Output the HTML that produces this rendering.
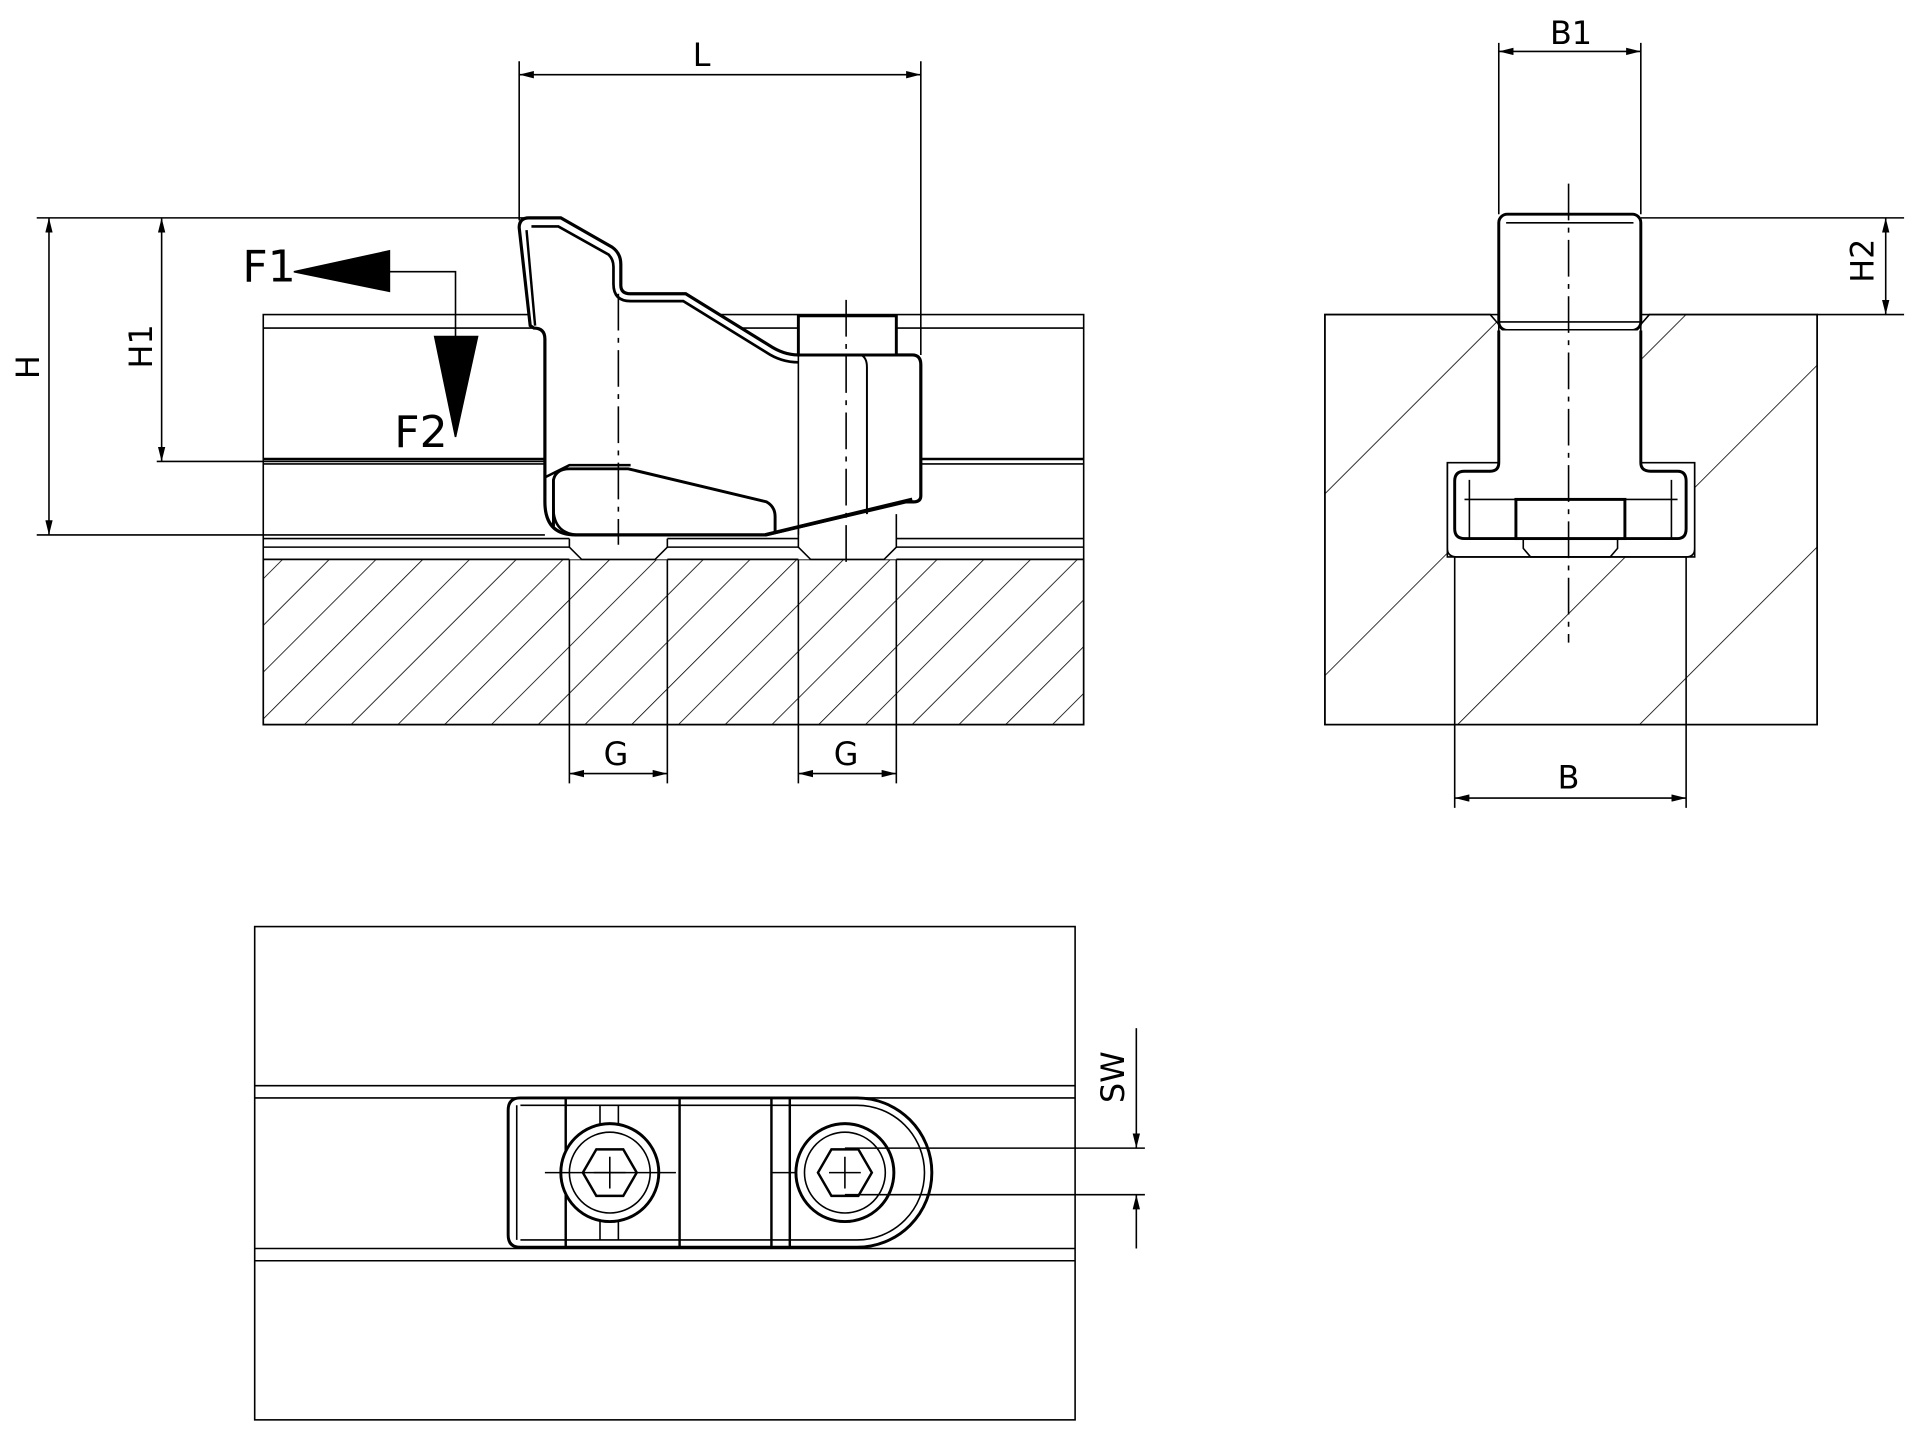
<!DOCTYPE html>
<html><head><meta charset="utf-8"><style>
html,body{margin:0;padding:0;background:#fff;}
svg{display:block;}
text{font-family:"DejaVu Sans","Liberation Sans",sans-serif;fill:#000;}
</style></head><body>
<svg width="1920" height="1437" viewBox="0 0 1568 1174" preserveAspectRatio="none" xmlns="http://www.w3.org/2000/svg">
<defs>
<pattern id="h1" width="27" height="27" patternUnits="userSpaceOnUse" patternTransform="rotate(45)">
<line x1="0" y1="0" x2="0" y2="27" stroke="#000" stroke-width="1.3"/></pattern>
<pattern id="h2" width="105" height="105" patternUnits="userSpaceOnUse" patternTransform="rotate(45)">
<line x1="0" y1="0" x2="0" y2="105" stroke="#000" stroke-width="1.3"/></pattern>
<marker id="a" viewBox="0 0 12 6" refX="12" refY="3" markerWidth="12" markerHeight="6" orient="auto-start-reverse" markerUnits="userSpaceOnUse"><path d="M0,0 L12,3 L0,6z" fill="#000"/></marker>
</defs>
<g fill="none" stroke="#000" stroke-width="1.3">
<!-- FRONT VIEW -->
<rect x="215" y="457" width="670" height="135" fill="url(#h1)"/>
<rect x="215" y="257" width="670" height="335"/>
<line x1="215" y1="268" x2="885" y2="268"/>
<line x1="215" y1="375" x2="885" y2="375" stroke-width="2"/>
<line x1="215" y1="379" x2="885" y2="379"/>
<line x1="215" y1="440" x2="885" y2="440"/>
<line x1="215" y1="447" x2="885" y2="447"/>
<line x1="215" y1="457" x2="885" y2="457"/>
<!-- thread pockets -->
<rect x="465" y="437" width="80" height="20" fill="#fff" stroke="none"/>
<rect x="652" y="437" width="80" height="20" fill="#fff" stroke="none"/>
<path d="M465,440 L465,447 L475,457 L535,457 L545,447 L545,440"/>
<path d="M652,420 L652,447 L662,457 L722,457 L732,447 L732,420"/>
<line x1="465" y1="457" x2="465" y2="640"/><line x1="545" y1="457" x2="545" y2="640"/>
<line x1="652" y1="457" x2="652" y2="640"/><line x1="732" y1="457" x2="732" y2="640"/>
<line x1="465" y1="632" x2="545" y2="632" marker-start="url(#a)" marker-end="url(#a)"/>
<line x1="652" y1="632" x2="732" y2="632" marker-start="url(#a)" marker-end="url(#a)"/>
<!-- part -->
<path d="M432,178 L458,178 L500,202 Q507,207 507,216 L507,233 Q507,240 515,240 L560,240 L628,282 Q640,290 652,290 L745,290 Q752,290 752,298 L752,405 Q752,410 746,410 L740,410 L625,437 L470,437 Q445,437 445,410 L445,277 Q445,268 436,268 L433,266 L424,186 Q424,178 432,178Z" fill="#fff" stroke-width="2.6"/>
<path d="M434,185 L456,185 L497,208 Q501,212 501,218 L501,232 Q501,246 515,246 L558,246 L626,288 Q638,296 652,296" stroke-width="2.2"/>
<path d="M437,266 L430,188" stroke-width="2"/>
<path d="M452,430 L452,392 Q454,383 465,383 L513,383 L626,410 Q633,414 633,422 L633,435" stroke-width="2.4" fill="none"/>
<path d="M445,390 L465,380 L515,380" stroke-width="2"/>
<path d="M474,437 Q452,437 452,415" stroke-width="2"/>
<rect x="652" y="258" width="80" height="32" fill="#fff" stroke-width="2.4"/>
<line x1="652" y1="290" x2="652" y2="437"/>
<path d="M703,290 Q708,292 708,300 L708,420" stroke-width="1.6"/>
<line x1="625" y1="437" x2="745" y2="408" stroke-width="3"/>
<line x1="505" y1="240" x2="505" y2="445" stroke-dasharray="30,6,4,6"/>
<line x1="691" y1="245" x2="691" y2="462" stroke-dasharray="30,6,4,6"/>
<!-- dims front -->
<line x1="424" y1="50" x2="424" y2="180"/><line x1="752" y1="50" x2="752" y2="290"/>
<line x1="424" y1="61" x2="752" y2="61" marker-start="url(#a)" marker-end="url(#a)"/>
<line x1="30" y1="178" x2="432" y2="178"/>
<line x1="128" y1="377" x2="445" y2="377"/>
<line x1="30" y1="437" x2="445" y2="437"/>
<line x1="40" y1="178" x2="40" y2="437" marker-start="url(#a)" marker-end="url(#a)"/>
<line x1="132" y1="178" x2="132" y2="377" marker-start="url(#a)" marker-end="url(#a)"/>
<path d="M318,222 L372,222 L372,275"/>
<path d="M240,222 L318,205 L318,238Z" fill="#000"/>
<path d="M355,275 L390,275 L372,357Z" fill="#000"/>
<!-- SIDE VIEW -->
<path d="M1082,257 L1217,257 L1224,265 L1224,378 L1182,378 L1182,455 L1384,455 L1384,378 L1340,378 L1340,265 L1347,257 L1484,257 L1484,592 L1082,592Z" fill="url(#h2)"/>
<rect x="1082" y="257" width="402" height="335"/>
<rect x="1224" y="175" width="116" height="95" rx="7" fill="#fff" stroke-width="2.4"/>
<line x1="1230" y1="182" x2="1334" y2="182"/>
<line x1="1224" y1="263" x2="1340" y2="263"/>
<path d="M1224,270 L1224,378 Q1224,385 1217,385 L1196,385 Q1188,385 1188,393 L1188,432 Q1188,440 1196,440 L1370,440 Q1377,440 1377,432 L1377,393 Q1377,385 1370,385 L1348,385 Q1340,385 1340,378 L1340,270" fill="#fff" stroke-width="2.4"/>
<path d="M1182,378 L1182,448 Q1182,455 1190,455 L1377,455 Q1384,455 1384,448 L1384,378"/>
<path d="M1196,408 L1370,408"/>
<path d="M1200,392 L1200,440 M1365,392 L1365,440"/>
<rect x="1238" y="408" width="89" height="32" fill="#fff" stroke-width="2.4"/>
<path d="M1244,440 L1244,448 L1250,455 L1315,455 L1321,448 L1321,440"/>
<line x1="1281" y1="150" x2="1281" y2="525" stroke-dasharray="30,6,4,6"/>
<line x1="1188" y1="455" x2="1188" y2="660"/><line x1="1377" y1="455" x2="1377" y2="660"/>
<line x1="1188" y1="652" x2="1377" y2="652" marker-start="url(#a)" marker-end="url(#a)"/>
<line x1="1224" y1="35" x2="1224" y2="175"/><line x1="1340" y1="35" x2="1340" y2="175"/>
<line x1="1224" y1="42" x2="1340" y2="42" marker-start="url(#a)" marker-end="url(#a)"/>
<line x1="1340" y1="178" x2="1555" y2="178"/><line x1="1484" y1="257" x2="1555" y2="257"/>
<line x1="1540" y1="178" x2="1540" y2="257" marker-start="url(#a)" marker-end="url(#a)"/>
<!-- TOP VIEW -->
<rect x="208" y="757" width="670" height="403"/>
<line x1="208" y1="887" x2="878" y2="887"/><line x1="208" y1="897" x2="878" y2="897"/>
<line x1="208" y1="1020" x2="878" y2="1020"/><line x1="208" y1="1030" x2="878" y2="1030"/>
<path d="M425,897 L700,897 A61,61 0 0 1 700,1019 L425,1019 Q415,1019 415,1009 L415,907 Q415,897 425,897Z" fill="#fff" stroke-width="2.4"/>
<path d="M425,903 L700,903 A55,55 0 0 1 700,1013 L425,1013" />
<line x1="422" y1="903" x2="422" y2="1013"/>
<line x1="462" y1="897" x2="462" y2="1019" stroke-width="2"/>
<line x1="555" y1="897" x2="555" y2="1019" stroke-width="2"/>
<line x1="630" y1="897" x2="630" y2="1019" stroke-width="2"/>
<line x1="645" y1="897" x2="645" y2="1019" stroke-width="2"/>
<line x1="490" y1="903" x2="490" y2="1013"/>
<line x1="505" y1="903" x2="505" y2="1013"/>
<circle cx="498" cy="958" r="40" fill="#fff" stroke-width="2.4"/>
<circle cx="498" cy="958" r="33"/>
<polygon points="520,958 509,977 487,977 476,958 487,939 509,939" stroke-width="2"/>
<circle cx="690" cy="958" r="40" fill="#fff" stroke-width="2.4"/>
<circle cx="690" cy="958" r="33"/>
<polygon points="712,958 701,977 679,977 668,958 679,939 701,939" stroke-width="2"/>
<path d="M485,958 L511,958 M498,945 L498,971 M677,958 L703,958 M690,945 L690,971"/>
<path d="M445,958 L552,958 M630,958 L650,958"/>
<line x1="690" y1="938" x2="935" y2="938"/><line x1="690" y1="976" x2="935" y2="976"/>
<line x1="928" y1="840" x2="928" y2="938" marker-end="url(#a)"/>
<line x1="928" y1="1020" x2="928" y2="976" marker-end="url(#a)"/>
</g>
<g font-size="26">
<text x="573" y="54" text-anchor="middle">L</text>
<text x="503" y="625" text-anchor="middle">G</text>
<text x="691" y="625" text-anchor="middle">G</text>
<text x="1281" y="644" text-anchor="middle">B</text>
<text x="1283" y="36" text-anchor="middle">B1</text>
<text transform="translate(32,300) rotate(-90)" text-anchor="middle">H</text>
<text transform="translate(124,283) rotate(-90)" text-anchor="middle">H1</text>
<text transform="translate(1530,213) rotate(-90)" text-anchor="middle">H2</text>
<text transform="translate(918,880) rotate(-90)" text-anchor="middle">SW</text>
</g>
<g font-size="36">
<text x="198" y="230">F1</text>
<text x="322" y="365">F2</text>
</g>
</svg>
</body></html>
